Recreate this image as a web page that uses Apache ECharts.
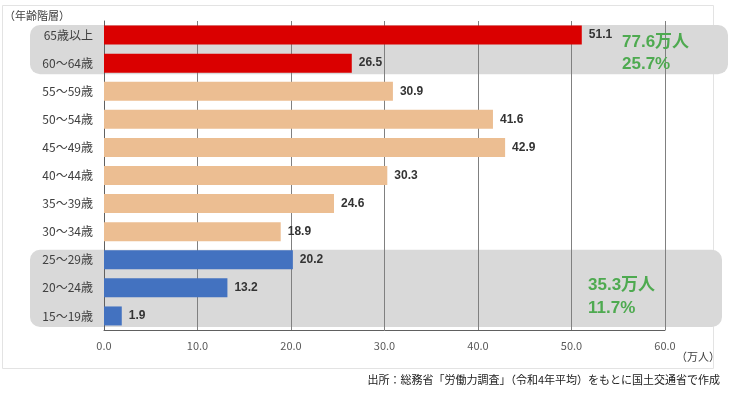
<!DOCTYPE html>
<html><head><meta charset="utf-8">
<script src="https://cdn.jsdelivr.net/npm/echarts@6/dist/echarts.min.js"></script>
<style>html,body{margin:0;padding:0;background:#fff}#c{width:740px;height:395px}</style>
</head><body><div id="c"></div>
<script>
const categories = ['65歳以上','60～64歳','55～59歳','50～54歳','45～49歳','40～44歳','35～39歳','30～34歳','25～29歳','20～24歳','15～19歳'];
const values = [51.1, 26.5, 30.9, 41.6, 42.9, 30.3, 24.6, 18.9, 20.2, 13.2, 1.9];
const groups = ['old','old','mid','mid','mid','mid','mid','mid','young','young','young'];
const groupColors = {old:'#DA0000', mid:'#ECBE92', young:'#4372C0'};
const xTicks = [0,10,20,30,40,50,60];
const notes = [
  {from:'65歳以上', to:'60～64歳', lines:['77.6万人','25.7%']},
  {from:'25～29歳', to:'15～19歳', lines:['35.3万人','11.7%']}
];
const FONT = '"Noto Sans CJK JP", "Noto Sans", sans-serif';
const NUMFONT = '"Liberation Sans", Arial, "Noto Sans CJK JP", sans-serif';

const chart = echarts.init(document.getElementById('c'), null, {renderer:'canvas'});
const option = {
  animation:false,
  grid:{left:104, right:75, top:21, bottom:65},
  xAxis:{type:'value', min:xTicks[0], max:xTicks[xTicks.length-1], interval:10,
    axisLine:{show:true, lineStyle:{color:'#606060', width:1}},
    axisTick:{show:false},
    axisLabel:{formatter:v=>v.toFixed(1), color:'#595959', fontSize:11, fontFamily:FONT, margin:10},
    splitLine:{show:true, lineStyle:{color:'#808080', width:1}}
  },
  yAxis:{type:'category', data:categories, inverse:true,
    axisLine:{show:true, lineStyle:{color:'#606060'}},
    axisTick:{show:false},
    axisLabel:{color:'#404040', fontSize:12, fontFamily:FONT, margin:11}
  },
  series:[{type:'bar', barWidth:19, z:3,
    data:values.map((v,i)=>({value:v, itemStyle:{color:groupColors[groups[i]]}})),
    label:{show:true, position:'right', distance:7, formatter:p=>p.value.toFixed(1),
      color:'#333', fontSize:12, fontWeight:'bold', fontFamily:NUMFONT}
  }],
  graphic:[]
};
chart.setOption(option);

function build(){
  const g = [];
  g.push({type:'rect', shape:{x:2.5, y:5.5, width:711, height:363}, style:{fill:'none', stroke:'#E3E3E3', lineWidth:1}, z:-20, silent:true});
  g.push({type:'text', style:{text:'（年齢階層）', x:4, y:16, fill:'#404040', font:'11px '+FONT, textVerticalAlign:'middle'}});
  g.push({type:'text', style:{text:'（万人）', x:720, y:357, fill:'#404040', font:'11px '+FONT, textAlign:'right', textVerticalAlign:'middle'}});
  g.push({type:'text', style:{text:'出所：総務省「労働力調査」（令和4年平均）をもとに国土交通省で作成', x:720, y:380, fill:'#222', font:'11px '+FONT, textAlign:'right', textVerticalAlign:'middle'}});
  const band = chart.convertToPixel({yAxisIndex:0}, categories[1]) - chart.convertToPixel({yAxisIndex:0}, categories[0]);
  notes.forEach((n, k)=>{
    const y1 = chart.convertToPixel({yAxisIndex:0}, n.from) - band/2 + 4;
    const y2 = chart.convertToPixel({yAxisIndex:0}, n.to) + band/2 - 3;
    const right = k===0 ? 728 : 722;
    g.push({type:'rect', shape:{x:30, y:y1, width:right-30, height:y2-y1, r:10}, style:{fill:'#D9D9D9'}, z:-10, silent:true});
    const tx = k===0 ? 622 : 588;
    const ty = k===0 ? [42, 64] : [285, 308];
    n.lines.forEach((t,j)=>{
      g.push({type:'text', z:10, style:{text:t, x:tx, y:ty[j], fill:'#4EAA50', font:'bold 17px '+NUMFONT, textVerticalAlign:'middle'}});
    });
  });
  chart.setOption({graphic:g});
}
build();
</script>
</body></html>
